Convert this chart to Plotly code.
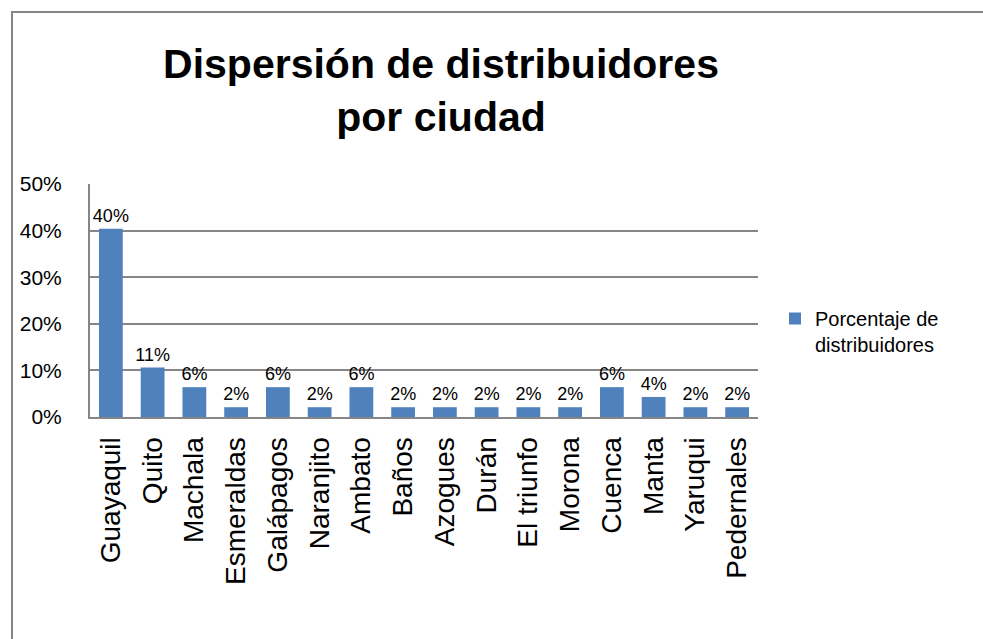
import plotly.graph_objects as go

ciudades = ["Guayaquil", "Quito", "Machala", "Esmeraldas", "Galápagos", "Naranjito",
            "Ambato", "Baños", "Azogues", "Durán", "El triunfo", "Morona", "Cuenca",
            "Manta", "Yaruqui", "Pedernales"]
porcentajes = [0.404, 0.106, 0.064, 0.021, 0.064, 0.021, 0.064, 0.021, 0.021,
               0.021, 0.021, 0.021, 0.064, 0.043, 0.021, 0.021]
serie = "Porcentaje de<br>distribuidores"
titulo = "Dispersión de distribuidores<br>por ciudad"
y_ticks = [0, 0.1, 0.2, 0.3, 0.4, 0.5]

BLUE = "#4F81BD"
GRAY = "#868686"
FONT = "Liberation Sans, Arial, sans-serif"

fig = go.Figure()
fig.add_trace(go.Bar(
    x=ciudades, y=porcentajes, name=serie,
    marker=dict(color=BLUE, line=dict(width=0)),
    texttemplate="%{y:.0%}", textposition="outside",
    textfont=dict(family=FONT, size=18, color="#000000"),
    constraintext="none",
    cliponaxis=False,
    showlegend=True,
))

L, R, T, B = 90, 758, 184, 417
W, H = 983, 639
pw, ph = R - L, B - T

def px_x(x):
    return (x - L) / pw

def px_y(y):
    return (B - y) / ph

fig.update_layout(
    width=W, height=H,
    margin=dict(l=L, r=W - R, t=T, b=H - B, pad=0),
    paper_bgcolor="white", plot_bgcolor="white",
    bargap=0.43,
    title=dict(text=titulo, x=441 / W, xanchor="center", y=1 - 78 / H, yanchor="top",
               font=dict(family=FONT, size=41, color="#000000", weight="bold")),
    showlegend=True,
    legend=dict(x=px_x(775), xanchor="left", y=px_y(299), yanchor="top",
                valign="top",
                font=dict(family=FONT, size=20, color="#000000"),
                bgcolor="rgba(0,0,0,0)", itemwidth=30, tracegroupgap=0),
    xaxis=dict(tickangle=-90, showline=True, linecolor=GRAY, linewidth=2,
               ticks="", showgrid=False, ticklabelstandoff=7,
               tickfont=dict(family=FONT, size=28, color="#000000")),
    yaxis=dict(range=[0, 0.5], tickvals=y_ticks, tickformat=".0%",
               showline=True, linecolor=GRAY, linewidth=2,
               showgrid=True, gridcolor=GRAY, gridwidth=1.5, ticks="",
               zeroline=False, ticklabelstandoff=22,
               tickfont=dict(family=FONT, size=21, color="#000000")),
    shapes=[dict(type="rect", xref="paper", yref="paper",
                 x0=px_x(12), x1=px_x(1000), y0=px_y(12), y1=px_y(660),
                 line=dict(color=GRAY, width=2), fillcolor="rgba(0,0,0,0)", layer="below")],
)

fig.write_html("out.html",
               config={"displayModeBar": False},
               post_script="document.body.style.margin='0';document.body.style.overflow='hidden';")
